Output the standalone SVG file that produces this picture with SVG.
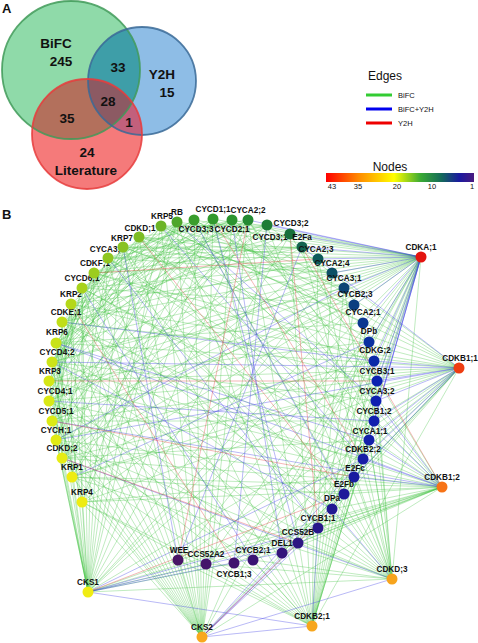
<svg xmlns="http://www.w3.org/2000/svg" width="478" height="643" viewBox="0 0 478 643">
<style>
.lbl{font-family:"Liberation Sans",Arial,sans-serif;font-weight:bold;fill:#111}
.ven{font-family:"Liberation Sans",Arial,sans-serif;font-weight:bold;font-size:13.5px;fill:#111;text-anchor:middle}
.leg{font-family:"Liberation Sans",Arial,sans-serif;fill:#111}
.n text{font-family:"Liberation Sans",Arial,sans-serif;font-weight:bold;font-size:8.2px;fill:#111;text-anchor:middle}
.n circle{stroke:none}
#edges line{stroke-width:.6}
.g line{stroke:#3cc23c;stroke-opacity:.55}
.b line{stroke:#3c3ce6;stroke-opacity:.6}
.r line{stroke:#e43434;stroke-opacity:.6}
</style>
<defs>
<clipPath id="cG"><circle cx="71" cy="70" r="69"/></clipPath>
<clipPath id="cB"><circle cx="142" cy="81" r="54"/></clipPath>
<linearGradient id="grad" x1="0" x2="1" y1="0" y2="0">
<stop offset="0" stop-color="#ff0000"/>
<stop offset=".22" stop-color="#ff8a00"/>
<stop offset=".46" stop-color="#ffff00"/>
<stop offset=".64" stop-color="#3aaa34"/>
<stop offset=".78" stop-color="#146a5a"/>
<stop offset=".9" stop-color="#1a1aa0"/>
<stop offset="1" stop-color="#4a1a80"/>
</linearGradient>
</defs>
<rect width="478" height="643" fill="#fff"/>

<g id="venn">
<text class="lbl" x="2" y="13" font-size="13">A</text>
<circle cx="71" cy="70" r="69" fill="#8fdaa9"/>
<circle cx="142" cy="81" r="54" fill="#8ebde6"/>
<circle cx="87" cy="134" r="55" fill="#f57a7a"/>
<g clip-path="url(#cG)"><circle cx="142" cy="81" r="54" fill="#3e9ea8"/><circle cx="87" cy="134" r="55" fill="#b3705c"/></g>
<g clip-path="url(#cB)"><circle cx="87" cy="134" r="55" fill="#c2607c"/></g>
<g clip-path="url(#cG)"><g clip-path="url(#cB)"><circle cx="87" cy="134" r="55" fill="#8c5a63"/></g></g>
<circle cx="71" cy="70" r="69" fill="none" stroke="#3f9a58" stroke-width="1.8" stroke-opacity=".85"/>
<circle cx="142" cy="81" r="54" fill="none" stroke="#3a6a96" stroke-width="1.8" stroke-opacity=".85"/>
<circle cx="87" cy="134" r="55" fill="none" stroke="#e63c3c" stroke-width="1.8" stroke-opacity=".85"/>
<text class="ven" x="56" y="48">BiFC</text>
<text class="ven" x="61" y="66">245</text>
<text class="ven" x="118" y="72">33</text>
<text class="ven" x="162" y="79">Y2H</text>
<text class="ven" x="167" y="97">15</text>
<text class="ven" x="108" y="106">28</text>
<text class="ven" x="67" y="123">35</text>
<text class="ven" x="129" y="127">1</text>
<text class="ven" x="87" y="157">24</text>
<text class="ven" x="86" y="175">Literature</text>
</g>

<g id="legend">
<text class="leg" x="385" y="80" font-size="12" text-anchor="middle">Edges</text>
<line x1="366" y1="95" x2="392" y2="95" stroke="#33cc33" stroke-width="3"/>
<line x1="366" y1="109" x2="392" y2="109" stroke="#0000ee" stroke-width="3"/>
<line x1="366" y1="123" x2="392" y2="123" stroke="#ee0000" stroke-width="3"/>
<text class="leg" x="398" y="98" font-size="7.5">BiFC</text>
<text class="leg" x="398" y="112" font-size="7.5">BiFC+Y2H</text>
<text class="leg" x="398" y="126" font-size="7.5">Y2H</text>
<text class="leg" x="390" y="171" font-size="12" text-anchor="middle">Nodes</text>
<rect x="326" y="173" width="148" height="9" fill="url(#grad)"/>
<g class="leg" font-size="7.5" text-anchor="middle">
<text x="332" y="189">43</text><text x="358" y="189">35</text><text x="397" y="189">20</text><text x="432" y="189">10</text><text x="472" y="189">1</text>
</g>
</g>

<text class="lbl" x="2" y="219" font-size="13">B</text>

<g id="edges">
<g class="g">
<line x1="421" y1="257" x2="82" y2="502"/><line x1="421" y1="257" x2="72" y2="477"/><line x1="421" y1="257" x2="62" y2="458"/><line x1="421" y1="257" x2="56" y2="440"/><line x1="421" y1="257" x2="52" y2="421"/><line x1="421" y1="257" x2="49" y2="401"/><line x1="421" y1="257" x2="49" y2="381"/><line x1="421" y1="257" x2="52" y2="362"/><line x1="421" y1="257" x2="56" y2="343"/><line x1="421" y1="257" x2="62" y2="322"/><line x1="421" y1="257" x2="71" y2="304"/><line x1="421" y1="257" x2="82" y2="288"/><line x1="421" y1="257" x2="94" y2="273"/><line x1="421" y1="257" x2="108" y2="258"/><line x1="421" y1="257" x2="123" y2="247"/><line x1="421" y1="257" x2="139" y2="237"/><line x1="421" y1="257" x2="161" y2="226"/><line x1="421" y1="257" x2="177" y2="222"/><line x1="421" y1="257" x2="194" y2="220"/><line x1="421" y1="257" x2="213" y2="219"/><line x1="421" y1="257" x2="232" y2="220"/><line x1="421" y1="257" x2="354" y2="477"/><line x1="421" y1="257" x2="344" y2="494"/><line x1="421" y1="257" x2="332" y2="509"/><line x1="421" y1="257" x2="318" y2="528"/><line x1="421" y1="257" x2="298" y2="543"/><line x1="421" y1="257" x2="282" y2="553"/><line x1="421" y1="257" x2="253" y2="560"/><line x1="421" y1="257" x2="234" y2="563"/><line x1="421" y1="257" x2="206" y2="564"/><line x1="421" y1="257" x2="178" y2="560"/><line x1="421" y1="257" x2="202" y2="637"/><line x1="421" y1="257" x2="88" y2="592"/><line x1="421" y1="257" x2="392" y2="579"/>
<line x1="459" y1="368" x2="82" y2="502"/><line x1="459" y1="368" x2="72" y2="477"/><line x1="459" y1="368" x2="62" y2="458"/><line x1="459" y1="368" x2="52" y2="421"/><line x1="459" y1="368" x2="49" y2="401"/><line x1="459" y1="368" x2="49" y2="381"/><line x1="459" y1="368" x2="56" y2="343"/><line x1="459" y1="368" x2="62" y2="322"/><line x1="459" y1="368" x2="71" y2="304"/><line x1="459" y1="368" x2="94" y2="273"/><line x1="459" y1="368" x2="123" y2="247"/><line x1="459" y1="368" x2="161" y2="226"/><line x1="459" y1="368" x2="194" y2="220"/><line x1="459" y1="368" x2="232" y2="220"/><line x1="459" y1="368" x2="267" y2="225"/><line x1="459" y1="368" x2="318" y2="528"/><line x1="459" y1="368" x2="298" y2="543"/><line x1="459" y1="368" x2="282" y2="553"/><line x1="459" y1="368" x2="253" y2="560"/><line x1="459" y1="368" x2="234" y2="563"/><line x1="459" y1="368" x2="206" y2="564"/><line x1="459" y1="368" x2="178" y2="560"/><line x1="459" y1="368" x2="202" y2="637"/><line x1="459" y1="368" x2="88" y2="592"/><line x1="459" y1="368" x2="312" y2="626"/>
<line x1="442" y1="487" x2="82" y2="502"/><line x1="442" y1="487" x2="72" y2="477"/><line x1="442" y1="487" x2="62" y2="458"/><line x1="442" y1="487" x2="56" y2="440"/><line x1="442" y1="487" x2="49" y2="401"/><line x1="442" y1="487" x2="52" y2="362"/><line x1="442" y1="487" x2="62" y2="322"/><line x1="442" y1="487" x2="82" y2="288"/><line x1="442" y1="487" x2="108" y2="258"/><line x1="442" y1="487" x2="139" y2="237"/><line x1="442" y1="487" x2="177" y2="222"/><line x1="442" y1="487" x2="213" y2="219"/><line x1="442" y1="487" x2="248" y2="220"/><line x1="442" y1="487" x2="290" y2="234"/><line x1="442" y1="487" x2="344" y2="494"/><line x1="442" y1="487" x2="332" y2="509"/><line x1="442" y1="487" x2="318" y2="528"/><line x1="442" y1="487" x2="298" y2="543"/><line x1="442" y1="487" x2="282" y2="553"/><line x1="442" y1="487" x2="253" y2="560"/><line x1="442" y1="487" x2="234" y2="563"/><line x1="442" y1="487" x2="206" y2="564"/><line x1="442" y1="487" x2="178" y2="560"/><line x1="442" y1="487" x2="202" y2="637"/><line x1="442" y1="487" x2="88" y2="592"/>
<line x1="392" y1="579" x2="72" y2="477"/><line x1="392" y1="579" x2="56" y2="440"/><line x1="392" y1="579" x2="49" y2="401"/><line x1="392" y1="579" x2="52" y2="362"/><line x1="392" y1="579" x2="62" y2="322"/><line x1="392" y1="579" x2="82" y2="288"/><line x1="392" y1="579" x2="108" y2="258"/><line x1="392" y1="579" x2="139" y2="237"/><line x1="392" y1="579" x2="161" y2="226"/><line x1="392" y1="579" x2="194" y2="220"/><line x1="392" y1="579" x2="232" y2="220"/><line x1="392" y1="579" x2="267" y2="225"/><line x1="392" y1="579" x2="302" y2="247"/><line x1="392" y1="579" x2="318" y2="259"/><line x1="392" y1="579" x2="344" y2="288"/><line x1="392" y1="579" x2="363" y2="323"/><line x1="392" y1="579" x2="374" y2="361"/><line x1="392" y1="579" x2="376" y2="401"/><line x1="392" y1="579" x2="369" y2="440"/><line x1="392" y1="579" x2="354" y2="477"/><line x1="392" y1="579" x2="88" y2="592"/><line x1="392" y1="579" x2="298" y2="543"/><line x1="392" y1="579" x2="253" y2="560"/><line x1="392" y1="579" x2="206" y2="564"/>
<line x1="312" y1="626" x2="318" y2="259"/><line x1="312" y1="626" x2="332" y2="273"/><line x1="312" y1="626" x2="344" y2="288"/><line x1="312" y1="626" x2="354" y2="305"/><line x1="312" y1="626" x2="363" y2="323"/><line x1="312" y1="626" x2="369" y2="342"/><line x1="312" y1="626" x2="374" y2="361"/><line x1="312" y1="626" x2="377" y2="381"/><line x1="312" y1="626" x2="376" y2="401"/><line x1="312" y1="626" x2="374" y2="421"/><line x1="312" y1="626" x2="369" y2="440"/><line x1="312" y1="626" x2="363" y2="459"/><line x1="312" y1="626" x2="82" y2="502"/><line x1="312" y1="626" x2="62" y2="458"/><line x1="312" y1="626" x2="52" y2="421"/><line x1="312" y1="626" x2="49" y2="381"/><line x1="312" y1="626" x2="56" y2="343"/><line x1="312" y1="626" x2="71" y2="304"/><line x1="312" y1="626" x2="94" y2="273"/><line x1="312" y1="626" x2="123" y2="247"/><line x1="312" y1="626" x2="177" y2="222"/><line x1="312" y1="626" x2="213" y2="219"/><line x1="312" y1="626" x2="248" y2="220"/><line x1="312" y1="626" x2="290" y2="234"/><line x1="312" y1="626" x2="253" y2="560"/><line x1="312" y1="626" x2="206" y2="564"/><line x1="312" y1="626" x2="178" y2="560"/>
<line x1="202" y1="637" x2="82" y2="502"/><line x1="202" y1="637" x2="72" y2="477"/><line x1="202" y1="637" x2="62" y2="458"/><line x1="202" y1="637" x2="56" y2="440"/><line x1="202" y1="637" x2="52" y2="421"/><line x1="202" y1="637" x2="49" y2="401"/><line x1="202" y1="637" x2="49" y2="381"/><line x1="202" y1="637" x2="52" y2="362"/><line x1="202" y1="637" x2="56" y2="343"/><line x1="202" y1="637" x2="62" y2="322"/><line x1="202" y1="637" x2="71" y2="304"/><line x1="202" y1="637" x2="82" y2="288"/><line x1="202" y1="637" x2="94" y2="273"/><line x1="202" y1="637" x2="108" y2="258"/><line x1="202" y1="637" x2="123" y2="247"/><line x1="202" y1="637" x2="139" y2="237"/><line x1="202" y1="637" x2="161" y2="226"/><line x1="202" y1="637" x2="177" y2="222"/><line x1="202" y1="637" x2="194" y2="220"/><line x1="202" y1="637" x2="213" y2="219"/><line x1="202" y1="637" x2="232" y2="220"/><line x1="202" y1="637" x2="248" y2="220"/><line x1="202" y1="637" x2="267" y2="225"/><line x1="202" y1="637" x2="178" y2="560"/><line x1="202" y1="637" x2="234" y2="563"/>
<line x1="88" y1="592" x2="82" y2="502"/><line x1="88" y1="592" x2="72" y2="477"/><line x1="88" y1="592" x2="62" y2="458"/><line x1="88" y1="592" x2="56" y2="440"/><line x1="88" y1="592" x2="52" y2="421"/><line x1="88" y1="592" x2="49" y2="401"/><line x1="88" y1="592" x2="49" y2="381"/><line x1="88" y1="592" x2="52" y2="362"/><line x1="88" y1="592" x2="56" y2="343"/><line x1="88" y1="592" x2="62" y2="322"/><line x1="88" y1="592" x2="71" y2="304"/><line x1="88" y1="592" x2="82" y2="288"/><line x1="88" y1="592" x2="94" y2="273"/><line x1="88" y1="592" x2="108" y2="258"/><line x1="88" y1="592" x2="123" y2="247"/><line x1="88" y1="592" x2="139" y2="237"/><line x1="88" y1="592" x2="161" y2="226"/><line x1="88" y1="592" x2="177" y2="222"/><line x1="88" y1="592" x2="213" y2="219"/><line x1="88" y1="592" x2="248" y2="220"/><line x1="88" y1="592" x2="290" y2="234"/><line x1="88" y1="592" x2="332" y2="273"/><line x1="88" y1="592" x2="354" y2="305"/><line x1="88" y1="592" x2="369" y2="342"/><line x1="88" y1="592" x2="206" y2="564"/><line x1="88" y1="592" x2="178" y2="560"/><line x1="88" y1="592" x2="234" y2="563"/>
<line x1="161" y1="226" x2="363" y2="323"/><line x1="161" y1="226" x2="376" y2="401"/><line x1="139" y1="237" x2="344" y2="288"/><line x1="139" y1="237" x2="363" y2="459"/><line x1="123" y1="247" x2="369" y2="342"/><line x1="123" y1="247" x2="318" y2="528"/><line x1="108" y1="258" x2="332" y2="273"/><line x1="108" y1="258" x2="374" y2="421"/><line x1="94" y1="273" x2="374" y2="361"/><line x1="94" y1="273" x2="344" y2="494"/><line x1="82" y1="288" x2="354" y2="305"/><line x1="82" y1="288" x2="369" y2="440"/><line x1="71" y1="304" x2="377" y2="381"/><line x1="71" y1="304" x2="332" y2="509"/><line x1="62" y1="322" x2="318" y2="259"/><line x1="62" y1="322" x2="354" y2="477"/><line x1="56" y1="343" x2="363" y2="323"/><line x1="56" y1="343" x2="298" y2="543"/><line x1="52" y1="362" x2="344" y2="288"/><line x1="52" y1="362" x2="376" y2="401"/><line x1="49" y1="381" x2="369" y2="342"/><line x1="49" y1="381" x2="363" y2="459"/><line x1="49" y1="401" x2="332" y2="273"/><line x1="49" y1="401" x2="282" y2="553"/><line x1="52" y1="421" x2="374" y2="421"/><line x1="52" y1="421" x2="354" y2="305"/><line x1="56" y1="440" x2="374" y2="361"/><line x1="56" y1="440" x2="253" y2="560"/><line x1="62" y1="458" x2="369" y2="440"/><line x1="62" y1="458" x2="318" y2="259"/><line x1="72" y1="477" x2="377" y2="381"/><line x1="72" y1="477" x2="344" y2="494"/><line x1="82" y1="502" x2="354" y2="477"/><line x1="82" y1="502" x2="206" y2="564"/>
<line x1="82" y1="502" x2="213" y2="219"/><line x1="72" y1="477" x2="248" y2="220"/><line x1="62" y1="458" x2="290" y2="234"/><line x1="56" y1="440" x2="194" y2="220"/><line x1="52" y1="421" x2="267" y2="225"/><line x1="49" y1="401" x2="302" y2="247"/><line x1="49" y1="381" x2="177" y2="222"/><line x1="52" y1="362" x2="232" y2="220"/><line x1="56" y1="343" x2="267" y2="225"/><line x1="62" y1="322" x2="213" y2="219"/><line x1="71" y1="304" x2="248" y2="220"/><line x1="82" y1="288" x2="290" y2="234"/><line x1="94" y1="273" x2="302" y2="247"/>
<line x1="82" y1="502" x2="56" y2="343"/><line x1="72" y1="477" x2="71" y2="304"/><line x1="62" y1="458" x2="94" y2="273"/><line x1="52" y1="421" x2="123" y2="247"/><line x1="49" y1="401" x2="139" y2="237"/><line x1="49" y1="381" x2="161" y2="226"/><line x1="52" y1="362" x2="177" y2="222"/><line x1="56" y1="343" x2="213" y2="219"/><line x1="62" y1="322" x2="248" y2="220"/><line x1="71" y1="304" x2="161" y2="226"/><line x1="82" y1="288" x2="194" y2="220"/><line x1="94" y1="273" x2="232" y2="220"/><line x1="108" y1="258" x2="267" y2="225"/><line x1="123" y1="247" x2="302" y2="247"/><line x1="139" y1="237" x2="318" y2="259"/><line x1="161" y1="226" x2="332" y2="273"/><line x1="177" y1="222" x2="344" y2="288"/><line x1="194" y1="220" x2="354" y2="305"/><line x1="213" y1="219" x2="369" y2="342"/><line x1="232" y1="220" x2="377" y2="381"/><line x1="248" y1="220" x2="374" y2="421"/><line x1="82" y1="502" x2="82" y2="288"/><line x1="72" y1="477" x2="108" y2="258"/><line x1="56" y1="440" x2="139" y2="237"/><line x1="62" y1="458" x2="177" y2="222"/><line x1="52" y1="362" x2="161" y2="226"/>
<line x1="82" y1="502" x2="49" y2="381"/><line x1="72" y1="477" x2="52" y2="362"/><line x1="62" y1="458" x2="56" y2="343"/><line x1="56" y1="440" x2="62" y2="322"/><line x1="52" y1="421" x2="71" y2="304"/><line x1="49" y1="401" x2="82" y2="288"/><line x1="49" y1="381" x2="94" y2="273"/><line x1="52" y1="362" x2="108" y2="258"/><line x1="56" y1="343" x2="123" y2="247"/><line x1="62" y1="322" x2="139" y2="237"/><line x1="82" y1="288" x2="177" y2="222"/><line x1="94" y1="273" x2="194" y2="220"/><line x1="108" y1="258" x2="213" y2="219"/><line x1="123" y1="247" x2="232" y2="220"/><line x1="139" y1="237" x2="248" y2="220"/><line x1="161" y1="226" x2="267" y2="225"/><line x1="56" y1="343" x2="139" y2="237"/><line x1="52" y1="362" x2="123" y2="247"/><line x1="49" y1="381" x2="108" y2="258"/><line x1="49" y1="401" x2="94" y2="273"/><line x1="52" y1="421" x2="82" y2="288"/><line x1="56" y1="440" x2="71" y2="304"/><line x1="62" y1="458" x2="62" y2="322"/><line x1="82" y1="288" x2="232" y2="220"/><line x1="94" y1="273" x2="267" y2="225"/><line x1="108" y1="258" x2="302" y2="247"/><line x1="123" y1="247" x2="332" y2="273"/><line x1="139" y1="237" x2="354" y2="305"/><line x1="62" y1="322" x2="290" y2="234"/><line x1="71" y1="304" x2="302" y2="247"/><line x1="56" y1="343" x2="248" y2="220"/><line x1="52" y1="362" x2="194" y2="220"/><line x1="49" y1="381" x2="232" y2="220"/><line x1="49" y1="401" x2="267" y2="225"/><line x1="52" y1="421" x2="213" y2="219"/><line x1="56" y1="440" x2="177" y2="222"/><line x1="62" y1="458" x2="248" y2="220"/><line x1="72" y1="477" x2="213" y2="219"/><line x1="82" y1="502" x2="177" y2="222"/>
</g>
<g class="b">
<line x1="421" y1="257" x2="248" y2="220"/><line x1="421" y1="257" x2="267" y2="225"/><line x1="421" y1="257" x2="290" y2="234"/><line x1="421" y1="257" x2="302" y2="247"/><line x1="421" y1="257" x2="318" y2="259"/><line x1="421" y1="257" x2="332" y2="273"/><line x1="421" y1="257" x2="344" y2="288"/><line x1="421" y1="257" x2="354" y2="305"/><line x1="421" y1="257" x2="363" y2="323"/><line x1="421" y1="257" x2="369" y2="342"/><line x1="421" y1="257" x2="374" y2="361"/><line x1="421" y1="257" x2="377" y2="381"/><line x1="421" y1="257" x2="376" y2="401"/><line x1="421" y1="257" x2="374" y2="421"/><line x1="421" y1="257" x2="369" y2="440"/><line x1="421" y1="257" x2="363" y2="459"/>
<line x1="459" y1="368" x2="56" y2="440"/><line x1="459" y1="368" x2="52" y2="362"/><line x1="459" y1="368" x2="374" y2="361"/><line x1="459" y1="368" x2="377" y2="381"/><line x1="459" y1="368" x2="376" y2="401"/><line x1="459" y1="368" x2="374" y2="421"/><line x1="459" y1="368" x2="369" y2="440"/><line x1="459" y1="368" x2="363" y2="459"/><line x1="459" y1="368" x2="354" y2="477"/><line x1="459" y1="368" x2="302" y2="247"/>
<line x1="442" y1="487" x2="52" y2="421"/><line x1="442" y1="487" x2="56" y2="343"/><line x1="442" y1="487" x2="376" y2="401"/><line x1="442" y1="487" x2="374" y2="421"/><line x1="442" y1="487" x2="369" y2="440"/><line x1="442" y1="487" x2="363" y2="459"/><line x1="442" y1="487" x2="354" y2="477"/>
<line x1="392" y1="579" x2="62" y2="458"/><line x1="392" y1="579" x2="332" y2="509"/>
<line x1="312" y1="626" x2="202" y2="637"/><line x1="312" y1="626" x2="88" y2="592"/><line x1="312" y1="626" x2="318" y2="528"/>
<line x1="202" y1="637" x2="363" y2="459"/><line x1="202" y1="637" x2="344" y2="494"/><line x1="202" y1="637" x2="318" y2="528"/><line x1="202" y1="637" x2="298" y2="543"/><line x1="202" y1="637" x2="392" y2="579"/>
<line x1="88" y1="592" x2="318" y2="528"/><line x1="88" y1="592" x2="298" y2="543"/><line x1="88" y1="592" x2="282" y2="553"/><line x1="88" y1="592" x2="363" y2="459"/>
<line x1="161" y1="226" x2="363" y2="459"/><line x1="108" y1="258" x2="318" y2="528"/><line x1="62" y1="322" x2="374" y2="361"/><line x1="49" y1="401" x2="374" y2="421"/><line x1="194" y1="220" x2="344" y2="494"/><line x1="232" y1="220" x2="282" y2="553"/><line x1="267" y1="225" x2="234" y2="563"/><line x1="302" y1="247" x2="178" y2="560"/><line x1="82" y1="288" x2="253" y2="560"/><line x1="52" y1="362" x2="332" y2="509"/><line x1="72" y1="477" x2="369" y2="342"/><line x1="56" y1="440" x2="344" y2="288"/><line x1="177" y1="222" x2="376" y2="401"/><line x1="123" y1="247" x2="178" y2="560"/><line x1="56" y1="343" x2="369" y2="440"/><line x1="213" y1="219" x2="298" y2="543"/>
</g>
<g class="r">
<line x1="442" y1="487" x2="302" y2="247"/><line x1="202" y1="637" x2="332" y2="509"/><line x1="88" y1="592" x2="344" y2="494"/>
<line x1="139" y1="237" x2="344" y2="494"/><line x1="71" y1="304" x2="234" y2="563"/><line x1="213" y1="219" x2="363" y2="459"/><line x1="49" y1="381" x2="377" y2="381"/><line x1="62" y1="458" x2="298" y2="543"/><line x1="248" y1="220" x2="178" y2="560"/><line x1="94" y1="273" x2="318" y2="259"/><line x1="290" y1="234" x2="318" y2="528"/><line x1="52" y1="421" x2="354" y2="477"/>
</g>
</g>

<g id="nodes" class="n">
<g id="n-CDKA1"><circle cx="421" cy="257" r="5.5" fill="#e3140f"/><text x="421" y="250">CDKA;1</text></g>
<g id="n-CDKB11"><circle cx="459" cy="368" r="5.5" fill="#ee3d12"/><text x="460" y="361">CDKB1;1</text></g>
<g id="n-CDKB12"><circle cx="442" cy="487" r="5.5" fill="#f77316"/><text x="442" y="480">CDKB1;2</text></g>
<g id="n-CDKD3"><circle cx="392" cy="579" r="5.5" fill="#f7a41d"/><text x="392" y="572">CDKD;3</text></g>
<g id="n-CDKB21"><circle cx="312" cy="626" r="5.5" fill="#f7a61d"/><text x="312" y="619">CDKB2;1</text></g>
<g id="n-CKS2"><circle cx="202" cy="637" r="5.5" fill="#f8a81e"/><text x="202" y="630">CKS2</text></g>
<g id="n-CKS1"><circle cx="88" cy="592" r="5.5" fill="#f0ec14"/><text x="88" y="585">CKS1</text></g>
<g id="n-KRP4"><circle cx="82" cy="502" r="5.5" fill="#eeec12"/><text x="82" y="495">KRP4</text></g>
<g id="n-KRP1"><circle cx="72" cy="477" r="5.5" fill="#eeec12"/><text x="72" y="470">KRP1</text></g>
<g id="n-CDKD2"><circle cx="62" cy="458" r="5.5" fill="#e6ec14"/><text x="62" y="451">CDKD;2</text></g>
<g id="n-CYCH1"><circle cx="56" cy="440" r="5.5" fill="#e1ea14"/><text x="56" y="433">CYCH;1</text></g>
<g id="n-CYCD51"><circle cx="52" cy="421" r="5.5" fill="#dcea14"/><text x="56" y="414">CYCD5;1</text></g>
<g id="n-CYCD41"><circle cx="49" cy="401" r="5.5" fill="#d8e816"/><text x="55" y="394">CYCD4;1</text></g>
<g id="n-KRP3"><circle cx="49" cy="381" r="5.5" fill="#d4e616"/><text x="50" y="374">KRP3</text></g>
<g id="n-CYCD42"><circle cx="52" cy="362" r="5.5" fill="#cde418"/><text x="57" y="355">CYCD4;2</text></g>
<g id="n-KRP6"><circle cx="56" cy="343" r="5.5" fill="#c8e218"/><text x="57" y="335">KRP6</text></g>
<g id="n-CDKE1"><circle cx="62" cy="322" r="5.5" fill="#c0de18"/><text x="66" y="315">CDKE;1</text></g>
<g id="n-KRP2"><circle cx="71" cy="304" r="5.5" fill="#b4d81a"/><text x="71" y="297">KRP2</text></g>
<g id="n-CYCD61"><circle cx="82" cy="288" r="5.5" fill="#a8d21c"/><text x="82" y="281">CYCD6;1</text></g>
<g id="n-CDKF1"><circle cx="94" cy="273" r="5.5" fill="#9ccc1e"/><text x="95" y="266">CDKF;1</text></g>
<g id="n-CYCA3x"><circle cx="108" cy="258" r="5.5" fill="#90c620"/><text x="105" y="252">CYCA3;</text></g>
<g id="n-KRP7"><circle cx="123" cy="247" r="5.5" fill="#88c222"/><text x="122" y="241">KRP7</text></g>
<g id="n-CDKD1"><circle cx="139" cy="237" r="5.5" fill="#7cbc24"/><text x="140" y="231">CDKD;1</text></g>
<g id="n-KRP5"><circle cx="161" cy="226" r="5.5" fill="#6cb426"/><text x="162" y="219">KRP5</text></g>
<g id="n-RB"><circle cx="177" cy="222" r="5.5" fill="#4ea62a"/><text x="177" y="215">RB</text></g>
<g id="n-CYCD33"><circle cx="194" cy="220" r="5.5" fill="#3a9e2c"/><text x="196" y="232">CYCD3;3</text></g>
<g id="n-CYCD11"><circle cx="213" cy="219" r="5.5" fill="#32992e"/><text x="213" y="212">CYCD1;1</text></g>
<g id="n-CYCD21"><circle cx="232" cy="220" r="5.5" fill="#2c9430"/><text x="232" y="232">CYCD2;1</text></g>
<g id="n-CYCA22"><circle cx="248" cy="220" r="5.5" fill="#238a32"/><text x="248" y="213">CYCA2;2</text></g>
<g id="n-CYCD31"><circle cx="267" cy="225" r="5.5" fill="#1e7d36"/><text x="270" y="240">CYCD3;1</text></g>
<g id="n-CYCD32"><circle cx="290" cy="234" r="5.5" fill="#18703c"/><text x="291" y="226">CYCD3;2</text></g>
<g id="n-E2Fa"><circle cx="302" cy="247" r="5.5" fill="#146450"/><text x="302" y="240">E2Fa</text></g>
<g id="n-CYCA23"><circle cx="318" cy="259" r="5.5" fill="#0f5a5a"/><text x="316" y="252">CYCA2;3</text></g>
<g id="n-CYCA24"><circle cx="332" cy="273" r="5.5" fill="#0e5066"/><text x="332" y="266">CYCA2;4</text></g>
<g id="n-CYCA31"><circle cx="344" cy="288" r="5.5" fill="#0d4574"/><text x="344" y="281">CYCA3;1</text></g>
<g id="n-CYCB23"><circle cx="354" cy="305" r="5.5" fill="#0c3e80"/><text x="355" y="297">CYCB2;3</text></g>
<g id="n-CYCA21"><circle cx="363" cy="323" r="5.5" fill="#0b3690"/><text x="363" y="315">CYCA2;1</text></g>
<g id="n-DPb"><circle cx="369" cy="342" r="5.5" fill="#0a30a0"/><text x="369" y="334">DPb</text></g>
<g id="n-CDKG2"><circle cx="374" cy="361" r="5.5" fill="#0a2aa8"/><text x="375" y="353">CDKG;2</text></g>
<g id="n-CYCB31"><circle cx="377" cy="381" r="5.5" fill="#0c22b0"/><text x="377" y="374">CYCB3;1</text></g>
<g id="n-CYCA32"><circle cx="376" cy="401" r="5.5" fill="#0e20b0"/><text x="377" y="394">CYCA3;2</text></g>
<g id="n-CYCB12"><circle cx="374" cy="421" r="5.5" fill="#1020ae"/><text x="374" y="414">CYCB1;2</text></g>
<g id="n-CYCA11"><circle cx="369" cy="440" r="5.5" fill="#1420aa"/><text x="370" y="434">CYCA1;1</text></g>
<g id="n-CDKB22"><circle cx="363" cy="459" r="5.5" fill="#181ea6"/><text x="363" y="452">CDKB2;2</text></g>
<g id="n-E2Fc"><circle cx="354" cy="477" r="5.5" fill="#1a1ca0"/><text x="355" y="471">E2Fc</text></g>
<g id="n-E2Fb"><circle cx="344" cy="494" r="5.5" fill="#1e1a9a"/><text x="344" y="487">E2Fb</text></g>
<g id="n-DPa"><circle cx="332" cy="509" r="5.5" fill="#221892"/><text x="332" y="501">DPa</text></g>
<g id="n-CYCB11"><circle cx="318" cy="528" r="5.5" fill="#28168a"/><text x="318" y="521">CYCB1;1</text></g>
<g id="n-CCS52B"><circle cx="298" cy="543" r="5.5" fill="#2c1682"/><text x="298" y="535">CCS52B</text></g>
<g id="n-DEL1"><circle cx="282" cy="553" r="5.5" fill="#34147a"/><text x="282" y="546">DEL1</text></g>
<g id="n-CYCB21"><circle cx="253" cy="560" r="5.5" fill="#3a1474"/><text x="253" y="553">CYCB2;1</text></g>
<g id="n-CYCB13"><circle cx="234" cy="563" r="5.5" fill="#40146e"/><text x="234" y="577">CYCB1;3</text></g>
<g id="n-CCS52A2"><circle cx="206" cy="564" r="5.5" fill="#44146a"/><text x="206" y="557">CCS52A2</text></g>
<g id="n-WEE"><circle cx="178" cy="560" r="5.5" fill="#481466"/><text x="179" y="553">WEE</text></g>
</g>
</svg>
